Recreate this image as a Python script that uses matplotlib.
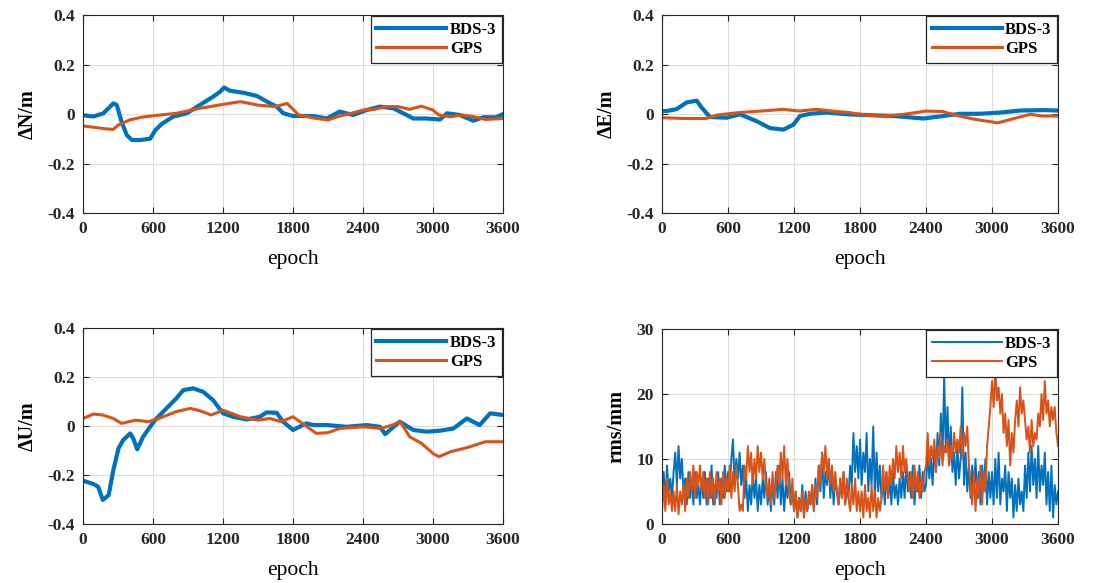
import matplotlib
matplotlib.use("Agg")
import matplotlib.pyplot as plt
import numpy as np

# ---- data ----
# dN (m)
n_bds_epoch = [0, 90, 175, 260, 290, 330, 375, 420, 490, 575, 620, 675, 775, 890, 1000,
               1115, 1175, 1210, 1260, 1375, 1490, 1605, 1660, 1717, 1800, 1975, 2090,
               2200, 2315, 2430, 2545, 2660, 2775, 2830, 2945, 3060, 3120, 3230, 3345,
               3430, 3545, 3600]
n_bds = [-0.005, -0.01, 0.003, 0.043, 0.036, -0.03, -0.085, -0.105, -0.105, -0.1, -0.065,
         -0.04, -0.01, 0.003, 0.036, 0.07, 0.09, 0.107, 0.094, 0.086, 0.073, 0.043, 0.03,
         0.003, -0.008, -0.008, -0.018, 0.01, -0.004, 0.016, 0.03, 0.023, -0.004, -0.018,
         -0.018, -0.022, 0.003, -0.004, -0.027, -0.013, -0.013, 0.0]
n_gps_epoch = [0, 100, 200, 260, 300, 400, 500, 600, 800, 1000, 1200, 1350, 1500, 1650,
               1750, 1850, 2000, 2100, 2200, 2300, 2400, 2500, 2600, 2700, 2800, 2900,
               3000, 3050, 3150, 3250, 3350, 3450, 3600]
n_gps = [-0.048, -0.054, -0.06, -0.062, -0.045, -0.024, -0.013, -0.007, 0.003, 0.023,
         0.039, 0.05, 0.036, 0.03, 0.043, -0.004, -0.018, -0.024, -0.008, 0.003, 0.016,
         0.019, 0.03, 0.03, 0.019, 0.032, 0.016, -0.004, -0.011, -0.004, -0.011, -0.022,
         -0.018]

# dE (m)
e_bds_epoch = [0, 42, 133, 224, 315, 360, 436, 588, 709, 860, 982, 1103, 1194, 1254, 1345,
               1497, 1679, 1860, 2103, 2376, 2557, 2709, 2891, 3073, 3254, 3466, 3600]
e_bds = [0.012, 0.012, 0.02, 0.047, 0.054, 0.026, -0.012, -0.015, -0.001, -0.029, -0.057,
         -0.063, -0.043, -0.008, 0.001, 0.006, -0.001, -0.004, -0.008, -0.018, -0.008,
         0.001, 0.001, 0.006, 0.014, 0.016, 0.014]
e_gps_epoch = [0, 200, 400, 500, 700, 900, 1100, 1250, 1400, 1550, 1700, 1850, 2000, 2200,
               2400, 2550, 2700, 2850, 3000, 3050, 3200, 3350, 3450, 3600]
e_gps = [-0.015, -0.018, -0.018, -0.004, 0.006, 0.012, 0.019, 0.012, 0.019, 0.012, 0.006,
         -0.004, -0.008, -0.001, 0.012, 0.01, -0.008, -0.022, -0.032, -0.036, -0.018,
         -0.001, -0.008, -0.008]

# dU (m)
u_bds_epoch = [0, 90, 130, 170, 220, 260, 305, 345, 405, 430, 465, 515, 575, 630, 715, 800,
               860, 945, 1030, 1115, 1200, 1285, 1400, 1515, 1575, 1660, 1715, 1800, 1915,
               1975, 2090, 2260, 2430, 2545, 2590, 2715, 2830, 2945, 3060, 3175, 3290,
               3400, 3490, 3600]
u_bds = [-0.223, -0.237, -0.248, -0.302, -0.282, -0.18, -0.09, -0.057, -0.03, -0.05,
         -0.095, -0.044, -0.003, 0.031, 0.072, 0.113, 0.147, 0.154, 0.14, 0.106, 0.052,
         0.038, 0.027, 0.038, 0.056, 0.054, 0.018, -0.016, 0.011, 0.004, 0.004, -0.003,
         0.004, -0.003, -0.033, 0.018, -0.016, -0.023, -0.019, -0.01, 0.031, 0.004, 0.052,
         0.045]
u_gps_epoch = [0, 90, 170, 260, 330, 450, 560, 650, 800, 920, 1000, 1100, 1200, 1350, 1500,
               1600, 1700, 1800, 1880, 2000, 2100, 2200, 2400, 2550, 2650, 2720, 2800,
               2900, 3000, 3050, 3150, 3300, 3450, 3600]
u_gps = [0.031, 0.049, 0.045, 0.031, 0.011, 0.024, 0.018, 0.031, 0.059, 0.072, 0.063,
         0.045, 0.065, 0.038, 0.024, 0.031, 0.018, 0.038, 0.011, -0.03, -0.027, -0.01,
         -0.003, -0.01, 0.004, 0.018, -0.044, -0.07, -0.112, -0.125, -0.105, -0.087,
         -0.064, -0.064]

# rms (mm), one value every 15 epochs (one row = 600 epochs)
rms_epoch = list(range(0, 3601, 15))
rms_bds = [
    4, 8, 3, 9, 5, 7, 4, 8, 11, 6, 12, 7, 10, 5, 7, 3, 8, 4, 7, 3, 8, 4, 6, 3, 7, 4, 8,
    3, 7, 4, 9, 3, 6, 4, 8, 3, 7, 4, 9, 5,
    8, 5, 10, 13, 6, 10, 7, 11, 6, 9, 4, 7, 2, 6, 3, 8, 4, 7, 2, 6, 3, 7, 4, 8, 3, 6, 2,
    7, 3, 8, 4, 9, 3, 7, 2, 6, 4, 8, 3, 5,
    2, 5, 1, 4, 2, 6, 1, 5, 2, 4, 3, 6, 2, 7, 3, 9, 5, 11, 4, 8, 6, 10, 4, 8, 3, 7, 5,
    3, 7, 4, 8, 3, 6, 4, 9, 6, 14, 8, 12, 7,
    13, 6, 11, 8, 14, 5, 10, 6, 15, 4, 11, 5, 9, 4, 7, 3, 8, 4, 7, 3, 8, 4, 6, 3, 7, 4,
    8, 4, 9, 5, 8, 4, 9, 3, 7, 5, 9, 4, 8, 5,
    6, 11, 7, 10, 6, 12, 8, 14, 9, 17, 10, 23, 11, 18, 9, 15, 8, 11, 6, 12, 7, 10, 21,
    6, 11, 5, 9, 4, 9, 5, 10, 4, 8, 3, 9, 5, 10, 3, 8, 4,
    8, 3, 10, 4, 11, 3, 7, 5, 9, 2, 8, 4, 7, 1, 6, 2, 7, 3, 5, 2, 9, 4, 11, 5, 12, 6, 10,
    4, 12, 5, 9, 6, 11, 3, 8, 2, 9, 1, 6, 3,
    5]
rms_gps = [
    2, 6, 2, 7, 3, 5, 2, 5, 2, 6, 1.5, 5, 3, 6, 2, 7, 4, 8, 5, 9, 4, 8, 6, 9, 5, 8, 4,
    7, 3, 8, 4, 7, 3, 8, 5, 7, 3, 8, 4, 7,
    5, 9, 4, 8, 5, 9, 6, 2, 3, 2, 9, 7, 12, 8, 11, 6, 10, 7, 12, 8, 11, 7, 10, 6, 4, 7,
    3, 8, 4, 6, 9, 6, 11, 7, 12, 6, 10, 5, 3, 7,
    2, 5, 1, 4, 2, 5, 1, 4, 2, 5, 3, 6, 2, 6, 4, 9, 6, 11, 8, 12, 7, 10, 6, 9, 5, 8, 5,
    3, 7, 4, 8, 3, 7, 4, 2, 6, 3, 7, 2, 5,
    2, 5, 1, 6, 2, 4, 1, 6, 2, 5, 1, 4, 2, 4, 9, 5, 8, 4, 9, 6, 10, 7, 12, 8, 11, 7, 12,
    8, 10, 7, 5, 8, 4, 9, 5, 8, 4, 7, 5, 8,
    9, 14, 9, 12, 10, 13, 8, 12, 10, 14, 9, 12, 11, 13, 9, 12, 10, 14, 11, 13, 11, 15,
    10, 14, 12, 15, 9, 6, 3, 8, 2, 7, 4, 9, 3, 8, 5, 12, 15, 18,
    22, 18, 24, 19, 21, 17, 20, 14, 17, 12, 16, 9, 14, 11, 16, 19, 15, 21, 17, 19, 16,
    13, 15, 11, 16, 12, 14, 13, 17, 15, 20, 16, 22, 17, 19, 15, 18, 16, 18, 14,
    12]

xticks = [0, 600, 1200, 1800, 2400, 3000, 3600]
dticks = [-0.4, -0.2, 0, 0.2, 0.4]
dtick_labels = ["-0.4", "-0.2", "0", "0.2", "0.4"]
rticks = [0, 10, 20, 30]

blue = "#0072BD"
orange = "#D95319"
serif = ["Liberation Serif", "DejaVu Serif"]

plt.rcParams["font.family"] = serif

fig = plt.figure(figsize=(11.17, 5.83), dpi=100)
ax1 = fig.add_axes([0.0743, 0.6346, 0.376, 0.3396])
ax2 = fig.add_axes([0.5927, 0.6346, 0.3545, 0.3396])
ax3 = fig.add_axes([0.0743, 0.1012, 0.376, 0.336])
ax4 = fig.add_axes([0.5927, 0.1012, 0.3545, 0.3345])


def style(ax, ylabel, yt, ytl, ylim):
    ax.set_xlim(0, 3600)
    ax.set_ylim(*ylim)
    ax.set_xticks(xticks)
    ax.set_xticklabels([str(t) for t in xticks], fontweight="bold", fontsize=12.5)
    ax.set_yticks(yt)
    ax.set_yticklabels(ytl, fontweight="bold", fontsize=12.5)
    ax.tick_params(direction="in", top=True, right=True, length=4, width=0.8,
                   colors="#262626", pad=6)
    ax.grid(True, color="#dcdcdc", linewidth=0.8)
    ax.set_axisbelow(True)
    for s in ax.spines.values():
        s.set_color("#262626")
        s.set_linewidth(0.8)
    ax.set_xlabel("epoch", fontsize=15.5, labelpad=9)
    ax.set_ylabel(ylabel, fontsize=14.5, fontweight="bold", labelpad=7)
    leg = ax.legend(loc="upper right", handlelength=4.2, borderaxespad=0.05,
                    prop={"family": serif, "weight": "bold", "size": 12},
                    fancybox=False, framealpha=1, borderpad=0.35,
                    labelspacing=0.2, handletextpad=0.2)
    leg.get_frame().set_edgecolor("#262626")
    leg.get_frame().set_linewidth(0.9)


ax1.plot(n_bds_epoch, n_bds, color=blue, lw=3.0, label="BDS-3")
ax1.plot(n_gps_epoch, n_gps, color=orange, lw=2.2, label="GPS")
style(ax1, "\u0394N/m", dticks, dtick_labels, (-0.4, 0.4))

ax2.plot(e_bds_epoch, e_bds, color=blue, lw=3.0, label="BDS-3")
ax2.plot(e_gps_epoch, e_gps, color=orange, lw=2.2, label="GPS")
style(ax2, "\u0394E/m", dticks, dtick_labels, (-0.4, 0.4))

ax3.plot(u_bds_epoch, u_bds, color=blue, lw=3.0, label="BDS-3")
ax3.plot(u_gps_epoch, u_gps, color=orange, lw=2.2, label="GPS")
style(ax3, "\u0394U/m", dticks, dtick_labels, (-0.4, 0.4))

ax4.plot(rms_epoch, rms_bds, color=blue, lw=1.4, label="BDS-3")
ax4.plot(rms_epoch, rms_gps, color=orange, lw=1.4, label="GPS")
style(ax4, "rms/mm", rticks, [str(t) for t in rticks], (0, 30))

fig.savefig("out.png", dpi=100, facecolor="white")
